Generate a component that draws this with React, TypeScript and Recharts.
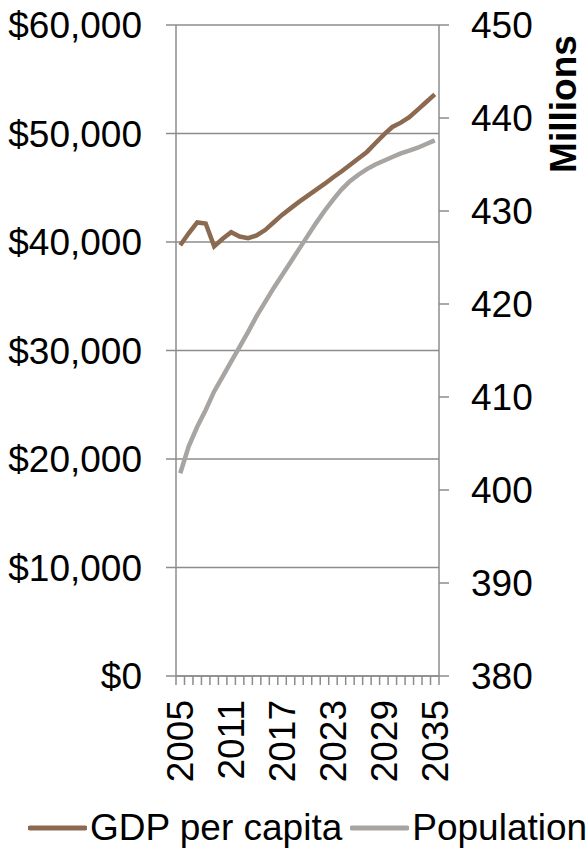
import React from "react";
import {
  LineChart,
  Line,
  XAxis,
  YAxis,
  CartesianGrid,
  Legend,
} from "recharts";

// years on the category axis
const years = [
  2005, 2006, 2007, 2008, 2009, 2010, 2011, 2012, 2013, 2014, 2015, 2016, 2017, 2018, 2019, 2020,
  2021, 2022, 2023, 2024, 2025, 2026, 2027, 2028, 2029, 2030, 2031, 2032, 2033, 2034, 2035,
];

// GDP per capita, dollars
const gdpPerCapita = [
  39700, 40800, 41800, 41700, 39600, 40300, 40900, 40500, 40350, 40600, 41100, 41800, 42500, 43100,
  43700, 44250, 44800, 45350, 45950, 46500, 47100, 47700, 48300, 49100, 49900, 50600, 51000, 51500,
  52200, 52900, 53600,
];

// population, millions
const population = [
  401.8, 404.7, 406.8, 408.6, 410.6, 412.2, 413.8, 415.4, 417.0, 418.7, 420.2, 421.7, 423.1, 424.5,
  425.9, 427.3, 428.7, 430.0, 431.2, 432.3, 433.2, 433.9, 434.5, 435.0, 435.4, 435.8, 436.2, 436.5,
  436.8, 437.2, 437.6,
];

const yearLabels = [2005, 2011, 2017, 2023, 2029, 2035];
const gdpTicks = [0, 10000, 20000, 30000, 40000, 50000, 60000];
const popTicks = [380, 390, 400, 410, 420, 430, 440, 450];

// tick marks sit between the years, like Excel's category axis
const yearBounds = [...years.map((y) => y - 0.5), years[years.length - 1] + 0.5];

const data = years.map((year, i) => ({
  year,
  gdp: gdpPerCapita[i],
  pop: population[i],
}));

const AXIS = "#8c8c8c";
const BROWN = "#8b6a51";
const GREY = "#a7a4a2";
const FONT = 37;

const YearTick = (props: any) => {
  const { x, y, payload } = props;
  return (
    <text
      x={x}
      y={y}
      dy="0.355em"
      transform={`rotate(-90, ${x}, ${y})`}
      textAnchor="end"
      fontSize={FONT}
      fill="#000"
    >
      {payload.value}
    </text>
  );
};

const MillionsLabel = (props: any) => {
  const { viewBox } = props;
  const cx = viewBox.x + 124;
  const cy = viewBox.y + 79;
  return (
    <text
      x={cx}
      y={cy}
      dy="0.355em"
      transform={`rotate(-90, ${cx}, ${cy})`}
      textAnchor="middle"
      fontSize={FONT}
      fontWeight="bold"
      fill="#000"
    >
      Millions
    </text>
  );
};

const renderLegend = (props: any) => {
  const { payload } = props;
  return (
    <div
      style={{
        display: "flex",
        justifyContent: "flex-start",
        alignItems: "center",
        height: 52,
        boxSizing: "border-box",
        paddingTop: 12,
        paddingLeft: 28,
        whiteSpace: "nowrap",
      }}
    >
      {payload.map((entry: any) => (
        <span key={entry.value} style={{ display: "flex", alignItems: "center", marginRight: 8 }}>
          <svg width={59} height={10}>
            <line x1={2} y1={5} x2={57} y2={5} stroke={entry.color} strokeWidth={5} strokeLinecap="round" />
          </svg>
          <span style={{ fontSize: FONT, color: "#000", marginLeft: 3, lineHeight: "40px" }}>{entry.value}</span>
        </span>
      ))}
    </div>
  );
};

export default function App() {
  return (
    <div
      style={{
        position: "absolute",
        left: 0,
        top: 0,
        width: 587,
        height: 848,
        background: "#fff",
        fontFamily: "'Liberation Sans', Arial, sans-serif",
      }}
    >
      <LineChart width={587} height={848} data={data} margin={{ top: 25, right: 0, bottom: 0, left: 0 }}>
        <CartesianGrid
          yAxisId="gdp"
          xAxisId="bounds"
          vertical={false}
          stroke={AXIS}
          strokeWidth={1.5}
        />
        <XAxis
          xAxisId="bounds"
          dataKey="year"
          type="number"
          domain={[2004.5, 2035.5]}
          ticks={yearBounds}
          height={1}
          stroke={AXIS}
          strokeWidth={1.5}
          tickSize={9}
          tickFormatter={() => ""}
          interval={0}
        />
        <XAxis
          xAxisId="years"
          dataKey="year"
          type="number"
          domain={[2004.5, 2035.5]}
          ticks={yearLabels}
          height={119}
          axisLine={false}
          tickLine={false}
          tickSize={0}
          tickMargin={23}
          tick={<YearTick />}
          interval={0}
        />
        <YAxis
          yAxisId="gdp"
          orientation="left"
          width={176}
          domain={[0, 60000]}
          ticks={gdpTicks}
          tickFormatter={(v: number) => `$${v.toLocaleString("en-US")}`}
          stroke={AXIS}
          strokeWidth={1.5}
          tickSize={10}
          tickMargin={24}
          tick={{ fontSize: FONT, fill: "#000" }}
          interval={0}
        />
        <YAxis
          yAxisId="pop"
          orientation="right"
          width={148}
          domain={[380, 450]}
          ticks={popTicks}
          stroke={AXIS}
          strokeWidth={1.5}
          tickSize={10}
          tickMargin={22}
          tick={{ fontSize: FONT, fill: "#000" }}
          interval={0}
          label={<MillionsLabel />}
        />
        <Legend verticalAlign="bottom" content={renderLegend} wrapperStyle={{ height: 52 }} />
        <Line
          xAxisId="bounds"
          yAxisId="gdp"
          type="linear"
          dataKey="gdp"
          name="GDP per capita"
          stroke={BROWN}
          strokeWidth={4.5}
          dot={false}
          isAnimationActive={false}
        />
        <Line
          xAxisId="years"
          yAxisId="pop"
          type="linear"
          dataKey="pop"
          name="Population"
          stroke={GREY}
          strokeWidth={4.5}
          dot={false}
          isAnimationActive={false}
        />
      </LineChart>
    </div>
  );
}
